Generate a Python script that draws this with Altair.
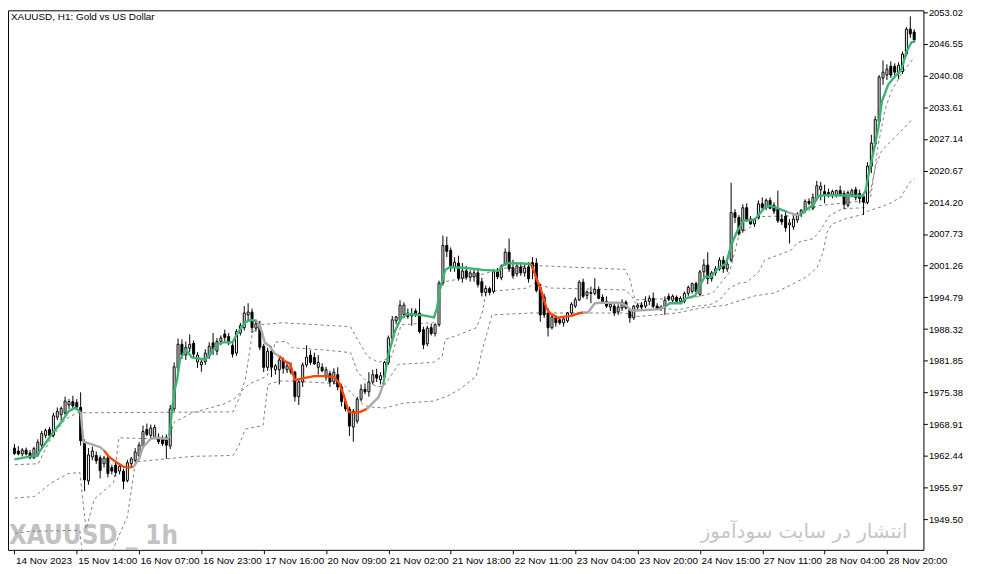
import altair as alt
import pandas as pd

# ---------------- data ----------------
opens = [
 1964.0,1963.4,1962.8,1963.6,1963.0,1962.0,1962.6,1964.6,1966.6,1967.8,
 1966.6,1970.3,1970.8,1971.2,1972.8,1973.5,1973.3,1972.3,1965.0,1957.3,
 1962.2,1962.5,1962.0,1960.8,1962.0,1960.0,1960.5,1959.3,1959.3,1957.4,
 1960.8,1961.5,1962.5,1964.4,1967.8,1966.6,1966.2,1966.2,1965.8,1966.2,
 1964.4,1972.0,1980.4,1985.2,1983.0,1984.4,1985.4,1981.6,1981.0,1981.6,
 1982.8,1985.5,1983.8,1985.8,1987.3,1986.8,1985.0,1983.4,1987.5,1988.6,
 1991.2,1991.8,1988.5,1988.8,1984.8,1980.5,1983.8,1980.0,1980.0,1982.0,
 1980.0,1980.5,1979.5,1974.5,1977.5,1981.0,1983.0,1982.5,1980.5,1980.5,
 1978.5,1979.2,1977.5,1979.0,1976.5,1973.5,1972.0,1968.3,1969.5,1974.0,
 1976.0,1975.5,1977.5,1979.0,1978.0,1978.5,1981.5,1986.5,1990.0,1990.2,
 1991.3,1991.6,1991.0,1992.0,1991.6,1988.2,1985.3,1988.6,1987.4,1989.2,
 1997.7,2005.4,2004.4,2001.0,2001.8,1998.7,2000.2,1998.9,1999.0,1999.8,
 1998.0,1995.8,1996.6,1996.0,2000.0,1998.8,2001.6,2004.0,2000.8,1999.6,
 2001.0,1999.8,2001.0,2001.9,2001.8,1996.8,1994.9,1991.6,1988.6,1990.6,
 1990.2,1989.6,1990.0,1991.6,1993.0,1994.3,1997.9,1995.2,1995.6,1995.6,
 1996.4,1994.8,1994.0,1992.8,1993.0,1991.8,1992.6,1993.8,1992.2,1990.6,
 1992.8,1993.2,1993.0,1994.0,1994.6,1993.0,1992.4,1993.0,1995.0,1994.2,
 1994.8,1994.0,1994.0,1995.6,1996.0,1997.6,1995.4,2000.0,2001.4,1998.6,
 1999.8,2000.6,2002.4,2000.6,2002.4,2012.1,2011.1,2008.5,2013.1,2010.8,
 2009.8,2011.1,2013.9,2013.2,2014.6,2013.6,2012.8,2010.8,2011.4,2009.6,
 2009.2,2010.6,2011.8,2012.6,2014.4,2013.0,2015.0,2016.8,2016.4,2016.2,
 2015.6,2015.8,2016.6,2016.0,2013.6,2015.8,2016.8,2016.0,2015.4,2014.2,
 2021.6,2026.1,2030.7,2039.6,2040.2,2042.0,2042.0,2040.6,2040.9,2044.5,
 2049.6,2049.0]
highs = [
 1964.8,1964.4,1964.0,1964.1,1963.6,1964.3,1965.8,1967.5,1968.0,1968.3,
 1971.2,1972.3,1972.5,1974.5,1974.0,1974.7,1974.0,1975.4,1965.8,1964.0,
 1964.3,1963.3,1962.5,1962.4,1962.4,1960.6,1961.0,1960.8,1959.8,1961.6,
 1962.2,1964.0,1965.2,1968.6,1969.0,1968.8,1968.8,1967.0,1966.6,1966.8,
 1972.8,1981.5,1986.4,1986.2,1985.8,1987.2,1986.0,1983.6,1982.0,1984.2,
 1985.6,1987.5,1986.5,1987.0,1988.2,1987.5,1985.8,1988.3,1989.6,1993.0,
 1993.6,1992.5,1990.3,1990.0,1985.3,1984.5,1984.8,1981.2,1982.6,1982.5,
 1981.5,1981.5,1979.8,1978.0,1981.5,1985.0,1984.0,1983.5,1983.0,1981.3,
 1980.6,1979.8,1980.3,1980.5,1977.0,1974.0,1972.5,1972.0,1974.5,1977.0,
 1977.2,1979.5,1980.0,1980.2,1979.5,1981.8,1987.0,1991.0,1991.0,1994.2,
 1993.8,1992.5,1992.6,1992.5,1994.5,1988.8,1989.0,1989.4,1989.5,1998.2,
 2007.4,2007.2,2005.0,2003.0,2003.3,2001.8,2001.2,2000.3,2000.5,2000.8,
 1998.8,1997.2,1997.0,2000.6,2000.8,2001.5,2004.8,2006.8,2002.5,2001.8,
 2002.0,2001.4,2002.0,2003.0,2002.8,1997.6,1995.5,1992.6,1991.6,1991.2,
 1990.6,1990.8,1991.8,1993.8,1994.8,1998.3,1998.6,1996.2,1997.0,1998.7,
 1997.0,1995.4,1995.0,1993.8,1993.6,1993.4,1994.4,1994.2,1992.6,1993.2,
 1993.6,1993.8,1995.0,1995.2,1995.8,1993.6,1993.2,1995.0,1995.6,1995.4,
 1995.2,1995.0,1996.0,1997.2,1997.8,1998.0,2000.4,2002.6,2004.0,2000.2,
 2001.2,2003.0,2003.2,2002.2,2018.2,2012.8,2011.6,2013.8,2014.0,2011.4,
 2011.0,2014.6,2015.2,2015.0,2015.2,2014.2,2016.6,2011.8,2012.6,2010.8,
 2011.4,2012.2,2012.8,2014.8,2015.0,2016.0,2018.6,2018.4,2017.8,2017.0,
 2016.8,2016.8,2017.6,2016.6,2016.6,2017.0,2017.4,2016.8,2016.0,2022.4,
 2028.0,2031.8,2040.2,2043.2,2042.4,2043.0,2042.6,2042.8,2045.0,2050.0,
 2052.2,2049.6]
lows = [
 1962.6,1962.5,1962.3,1962.5,1961.7,1961.8,1962.2,1964.0,1966.0,1966.2,
 1966.2,1969.7,1969.5,1970.8,1972.0,1972.2,1971.8,1964.5,1955.2,1956.5,
 1961.5,1960.8,1957.8,1960.0,1958.0,1958.6,1958.2,1958.6,1955.6,1957.0,
 1960.3,1961.0,1962.0,1964.0,1966.4,1966.0,1965.8,1964.8,1964.4,1961.8,
 1963.8,1971.5,1979.6,1982.2,1982.0,1983.6,1982.6,1980.4,1979.6,1981.0,
 1982.2,1983.0,1983.0,1985.0,1985.8,1985.0,1982.5,1982.8,1987.0,1988.0,
 1990.0,1987.5,1987.8,1984.0,1979.5,1979.8,1978.5,1979.0,1977.0,1979.2,
 1979.3,1979.0,1973.5,1972.8,1976.5,1980.5,1981.0,1981.0,1979.0,1979.5,
 1977.8,1976.5,1977.0,1975.8,1972.5,1971.5,1966.5,1965.3,1969.0,1973.5,
 1975.0,1974.5,1977.0,1977.5,1977.0,1978.0,1981.0,1986.0,1989.3,1989.8,
 1990.5,1990.4,1989.0,1990.8,1987.4,1984.2,1984.8,1987.0,1986.8,1988.8,
 1997.2,2003.0,2000.0,2000.0,1998.2,1997.8,1998.4,1998.0,1998.0,1996.8,
 1995.0,1995.0,1995.2,1995.6,1998.5,1998.3,2001.2,2000.0,1998.6,1999.0,
 1999.2,1999.0,1997.8,1998.5,1995.8,1989.8,1990.6,1986.8,1988.2,1988.8,
 1989.2,1988.8,1989.6,1991.2,1992.6,1994.0,1994.6,1994.4,1993.6,1995.2,
 1994.4,1993.6,1992.6,1992.0,1991.0,1991.2,1992.0,1992.4,1989.6,1990.2,
 1992.0,1992.2,1992.6,1993.2,1992.6,1992.2,1992.0,1991.2,1994.0,1993.8,
 1993.6,1993.4,1993.6,1995.0,1995.6,1995.8,1995.0,1998.8,1997.5,1998.0,
 1999.2,2000.2,1999.8,2000.0,2002.0,2010.0,2007.4,2008.0,2010.2,2009.6,
 2009.2,2010.8,2012.6,2012.6,2012.8,2011.8,2010.0,2009.6,2008.2,2005.8,
 2008.6,2010.0,2011.2,2012.2,2013.6,2012.6,2014.6,2014.6,2014.0,2015.2,
 2015.0,2015.2,2015.6,2012.8,2013.2,2015.2,2014.6,2014.0,2011.6,2013.8,
 2020.2,2025.4,2030.2,2038.2,2039.2,2039.6,2040.2,2039.4,2040.4,2044.0,
 2047.8,2046.8]
closes = [
 1962.9,1962.8,1963.6,1962.8,1962.0,1963.9,1965.2,1967.0,1967.6,1966.6,
 1970.6,1971.5,1972.1,1973.6,1973.5,1972.6,1972.4,1965.5,1957.5,1962.6,
 1963.4,1961.4,1959.4,1962.0,1958.8,1959.3,1959.0,1960.3,1957.2,1961.0,
 1961.8,1963.2,1964.6,1967.4,1966.8,1968.1,1968.2,1965.3,1964.9,1964.6,
 1972.0,1980.6,1985.2,1983.0,1984.6,1985.2,1983.2,1983.0,1981.6,1983.4,
 1984.8,1984.0,1985.8,1986.5,1986.6,1985.5,1983.2,1987.8,1989.0,1991.6,
 1991.8,1988.6,1989.4,1984.6,1980.5,1983.8,1980.5,1980.8,1982.0,1980.3,
 1980.8,1979.5,1974.5,1977.5,1981.0,1982.6,1981.5,1981.2,1981.5,1979.8,
 1980.0,1977.5,1979.5,1976.5,1973.5,1972.0,1968.5,1971.5,1974.0,1976.0,
 1975.5,1977.5,1979.0,1978.3,1978.8,1981.5,1986.5,1990.2,1990.8,1993.2,
 1993.2,1990.9,1991.4,1991.2,1987.8,1985.1,1988.5,1987.4,1989.2,1997.7,
 2005.4,2004.2,2001.0,2002.0,1998.7,2000.2,1998.9,1999.8,1999.8,1997.4,
 1995.8,1996.6,1995.8,2000.0,1999.0,2001.2,2004.0,2000.6,1999.2,2001.2,
 1999.8,2000.8,1998.6,2000.8,1996.2,1991.2,1991.2,1988.6,1990.8,1989.6,
 1989.6,1990.4,1991.6,1993.4,1994.3,1997.9,1995.0,1995.9,1995.8,1996.4,
 1994.6,1993.8,1993.0,1993.4,1991.6,1992.8,1993.8,1992.6,1990.6,1993.0,
 1993.2,1992.8,1994.0,1994.6,1993.0,1992.4,1992.8,1994.2,1994.4,1995.0,
 1994.0,1994.6,1995.6,1996.8,1997.6,1996.0,2000.0,2001.4,1998.6,1999.8,
 2000.6,2002.4,2000.6,2001.6,2012.1,2011.1,2007.8,2013.1,2010.5,2009.8,
 2010.6,2013.9,2013.1,2014.6,2013.0,2012.4,2010.4,2010.2,2009.0,2010.0,
 2010.8,2011.8,2012.6,2014.4,2014.0,2015.2,2017.6,2017.5,2015.6,2015.8,
 2016.4,2016.6,2015.8,2013.8,2016.2,2016.6,2015.2,2015.0,2014.2,2021.6,
 2026.3,2031.1,2039.8,2040.8,2041.4,2040.2,2040.8,2042.2,2044.5,2049.6,
 2048.6,2047.4]

# trend line (vertices: bar position, value, colour segment)
ind_seg = ([0]*10 + [1]*5 + [2]*6 + [3]*7 + [4]*16 + [5]*6 + [6]*15 + [7]*4 +
           [8]*18 + [9]*10 + [10]*10 + [11]*19 + [12]*3 + [13]*17)
ind_pos = [0,3.5,5.6,7,8.5,10,12,14,15.6,17,
           17,17.7,19.3,22,23,
           23,24.3,26,28,29.3,30.6,
           30.6,32,33,35,36,39.3,39.8,
           39.8,40.5,41,41.8,42.5,44,45.6,49,50.2,52,53.5,56,57.3,59.3,60.6,62.3,
           62.3,63.5,64.3,65.6,66.8,68,
           68,69.3,70.6,71.4,72,74.3,77,79.7,82,83.3,84.6,85.8,87,88.8,90.5,
           90.5,92.2,93.5,94.7,
           94.7,96,97.7,99.3,101,104.3,107.7,108.5,109.3,110.6,111.8,116,120.2,124.3,125.5,126.8,130.2,132.7,
           132.7,134,135.3,136.6,137.4,139.5,140.6,143,144.75,146,
           146,147.25,149,150.6,155.6,156.9,158.25,160,165.75,167,
           167,168.25,171.2,172.4,174.75,176,177.25,178.9,180.6,182.7,184,185.6,187.25,189,190.2,192.7,194,196,198.5,
           198.5,201,201.7,
           201.7,203.5,205.2,206.4,208.5,217.7,218.5,219.3,220.6,221.8,222.7,224.3,226,227.7,229,230.3,231.3]
ind_val = [1961.7,1962.2,1962.4,1963.9,1965.6,1967.3,1969.3,1971.6,1972.2,1971.4,
           1971.4,1965.3,1964.9,1964.2,1963.5,
           1963.5,1962.2,1961.2,1960.2,1960.0,1960.2,
           1960.2,1961.8,1964.2,1965.9,1966.1,1965.9,1966.5,
           1966.5,1972.0,1975.4,1978.1,1982.1,1984.1,1982.5,1982.1,1983.1,1985.2,1985.6,1985.6,1987.5,1989.7,1990.2,1989.9,
           1989.9,1987.8,1985.5,1984.8,1983.3,1982.8,
           1982.8,1981.8,1981.3,1979.5,1977.9,1978.3,1978.7,1978.7,1978.5,1977.4,1974.7,1971.4,1971.2,1971.4,1972.0,
           1972.0,1973.4,1974.4,1977.0,
           1977.0,1983.1,1987.9,1990.6,1991.4,1991.2,1990.7,1992.6,1996.7,2000.4,2001.0,2000.8,2000.4,2000.2,2001.4,2001.8,2001.7,2001.6,
           2001.6,1998.7,1996.0,1992.6,1991.6,1990.6,1990.8,1991.0,1991.5,1991.7,
           1991.7,1991.7,1993.6,1993.7,1993.7,1993.2,1992.1,1992.1,1992.4,1992.9,
           1992.9,1993.6,1993.6,1994.6,1995.1,1997.3,1999.0,1999.0,2000.7,2001.7,2005.4,2008.4,2010.5,2010.5,2010.8,2013.2,2013.5,2013.0,2012.2,
           2012.2,2011.6,2011.8,
           2011.8,2012.8,2013.8,2015.5,2015.7,2015.5,2016.5,2019.9,2024.7,2029.4,2034.8,2038.2,2039.9,2041.2,2044.9,2046.9,2047.1]
seg_colors = ["#3cb371","#a9a9a9","#ff4500","#a9a9a9","#3cb371","#a9a9a9","#ff4500",
              "#a9a9a9","#3cb371","#ff4500","#a9a9a9","#3cb371","#a9a9a9","#3cb371"]

# dotted channel lines (vertices)
bandA_pos = [0.1,6.1,9.3,13.1,16.1,56.1,57.6,59.3,61.1,63.1,68.8,86.3,88.1,90.6,93.6,96.8,99.3,107.6,109.8,
             119.3,125.1,133.6,156.8,158.1,159.3,174.3,179.3,183.6,186.1,189.1,191.8,201.8,206.1,218.1,
             219.8,221.8,223.6,225.1,227.6,231.1]
bandA_val = [1960.6,1960.8,1965.9,1969.9,1971.2,1971.4,1974.0,1978.1,1987.6,1989.2,1989.6,1988.8,1986.2,1982.7,
             1981.5,1982.7,1989.2,1989.6,1997.9,1999.3,2000.7,2001.3,2000.5,1998.3,1994.3,1994.7,1995.7,
             1999.9,2007.8,2009.2,2011.3,2011.5,2013.5,2014.5,2015.1,2026.1,2033.4,2036.8,2040.3,2043.9]
bandB_pos = [0.1,5.1,9.3,13.8,16.8,17.6,18.4,20.5,25.5,26.8,35.1,39.3,41.1,42.6,45.6,53.8,56.3,58.8,60.1,64.8,66.1,66.8,
             69.8,71.3,78.8,86.3,88.1,90.6,93.1,94.8,98.6,107.6,109.8,110.6,114.3,118.6,120.1,121.1,131.8,
             133.6,137.6,156.8,158.6,159.3,164.3,170.1,174.3,178.6,181.1,183.6,186.1,188.1,191.1,192.6,
             199.3,201.1,205.1,206.8,209.3,212.6,218.1,219.8,221.1,222.6,224.3,227.6,230.6]
bandB_val = [1953.8,1954.1,1956.8,1958.8,1959.0,1953.0,1947.5,1953.6,1957.0,1966.1,1965.9,1965.5,1969.4,1969.9,1971.2,1973.0,
             1974.0,1976.0,1977.0,1978.7,1980.7,1985.6,1985.8,1984.5,1984.1,1983.5,1979.5,1977.5,1976.6,
             1976.6,1981.1,1981.5,1982.7,1986.2,1987.2,1988.6,1991.6,1995.9,1996.7,1997.7,1996.7,1996.3,
             1994.9,1993.7,1992.9,1992.2,1992.9,1993.3,1994.3,1996.7,1997.7,1997.9,2000.0,2002.4,2004.4,
             2006.0,2006.8,2008.4,2011.5,2012.9,2013.1,2016.6,2021.6,2024.7,2026.1,2028.7,2031.3]
bandC_pos = [0.1,4.3,16.8,17.6,24.0,29.0,31.1,45.6,56.1,57.6,59.3,63.8,65.1,68.1,71.3,84.3,86.8,89.3,91.1,95.1,
             100.1,107.6,111.1,114.3,118.6,120.1,121.1,122.6,132.6,156.8,159.3,170.1,176.1,182.6,190.1,
             195.1,199.3,203.6,206.1,207.6,208.6,209.8,213.6,217.6,219.3,222.6,225.1,227.6,229.8,231.1]
bandC_val = [1946.6,1947.0,1947.2,1941.0,1941.0,1950.0,1961.2,1962.3,1962.5,1964.5,1967.9,1968.6,1977.0,1977.7,1977.7,
             1977.1,1975.0,1973.0,1972.4,1972.2,1973.2,1973.6,1974.6,1976.0,1978.7,1984.1,1986.8,1991.2,
             1991.6,1991.6,1990.8,1991.6,1992.6,1993.2,1995.1,1995.7,1997.3,1999.1,2000.9,2004.0,2008.0,
             2009.7,2010.9,2011.7,2012.5,2013.3,2014.1,2015.3,2018.2,2019.0]

y_ticks = [1949.50,1955.97,1962.44,1968.91,1975.38,1981.85,1988.32,1994.79,2001.26,2007.73,
           2014.20,2020.67,2027.14,2033.61,2040.08,2046.55,2053.02]
x_tick_pos = [0,16,32,48,64,80,96,112,128,144,160,176,192,208,224]
x_tick_labels = ["14 Nov 2023","15 Nov 14:00","16 Nov 07:00","16 Nov 23:00","17 Nov 16:00",
                 "20 Nov 09:00","21 Nov 02:00","21 Nov 18:00","22 Nov 11:00","23 Nov 04:00",
                 "23 Nov 20:00","24 Nov 15:00","27 Nov 11:00","28 Nov 04:00","28 Nov 20:00"]

title_text = "XAUUSD, H1:  Gold vs US Dollar"
mark_left = "XAUUSD _ 1h"
mark_right = "انتشار در سایت سودآموز"

# ---------------- frames ----------------
n = len(closes)
candles = pd.DataFrame({
    "i": list(range(n)), "open": opens, "high": highs, "low": lows, "close": closes})
candles["lo"] = candles[["open", "close"]].min(axis=1)
candles["hi"] = candles[["open", "close"]].max(axis=1)
candles["fill"] = ["#ffffff" if c >= o else "#000000" for o, c in zip(opens, closes)]

ind = pd.DataFrame({"i": ind_pos, "v": ind_val, "seg": ind_seg})
ind["col"] = [seg_colors[s] for s in ind_seg]
ind["ord"] = range(len(ind))

bands = pd.concat([
    pd.DataFrame({"i": bandA_pos, "v": bandA_val, "band": "A"}),
    pd.DataFrame({"i": bandB_pos, "v": bandB_val, "band": "B"}),
    pd.DataFrame({"i": bandC_pos, "v": bandC_val, "band": "C"}),
], ignore_index=True)
bands["ord"] = range(len(bands))

FONT = "Liberation Sans"
xscale = alt.Scale(domain=[-0.38, 232.1], nice=False, zero=False)
yscale = alt.Scale(domain=[1943.21, 2053.43], nice=False, zero=False)

label_arr = "[" + ",".join("'%s'" % t for t in x_tick_labels) + "]"
xaxis = alt.Axis(values=x_tick_pos, labelExpr=label_arr + "[round(datum.value/16)]",
                 labelAlign="left", labelPadding=2, labelOffset=1, tickSize=4,
                 grid=False, title=None, domain=False, tickColor="black",
                 labelColor="black", labelFont=FONT, labelFontSize=10,
                 labelOverlap=False, labelFlush=False, labelBound=False)
yaxis = alt.Axis(orient="right", values=y_ticks, format=".2f", tickSize=4, labelPadding=1,
                 grid=False, title=None, domain=False, tickColor="black",
                 labelColor="black", labelFont=FONT, labelFontSize=9.5,
                 labelOverlap=False, labelFlush=False, labelBound=False)

base_x = alt.X("i:Q", scale=xscale, axis=xaxis)

wm_left = alt.Chart(pd.DataFrame({"t": [mark_left]})).mark_text(
    align="left", baseline="alphabetic",
    font="DejaVu Sans Condensed, Liberation Sans Narrow, Liberation Sans, sans-serif",
    fontWeight="bold", fontSize=26, color="#c2c2c2").encode(
    x=alt.value(1), y=alt.value(538), text="t:N")
wm_right = alt.Chart(pd.DataFrame({"t": [mark_right]})).mark_text(
    align="right", baseline="alphabetic", font="DejaVu Sans, sans-serif",
    fontSize=20, color="#c6c6c6").encode(x=alt.value(907), y=alt.value(532), text="t:N")
title = alt.Chart(pd.DataFrame({"t": [title_text]})).mark_text(
    align="left", baseline="top", font=FONT, fontSize=10, color="black").encode(
    x=alt.value(3), y=alt.value(2), text="t:N")

band_layer = alt.Chart(bands).mark_line(
    strokeDash=[3, 3], strokeWidth=1, color="#7f7f7f", clip=True).encode(
    x=base_x, y=alt.Y("v:Q", scale=yscale, axis=yaxis), detail="band:N", order="ord:Q")

wicks = alt.Chart(candles).mark_rule(color="black", strokeWidth=1).encode(
    x=base_x, y=alt.Y("low:Q", scale=yscale, axis=yaxis), y2="high:Q")
bodies = alt.Chart(candles).mark_bar(size=2, stroke="black", strokeWidth=1).encode(
    x=base_x, y=alt.Y("lo:Q", scale=yscale, axis=yaxis), y2="hi:Q",
    fill=alt.Fill("fill:N", scale=None))

ind_layer = alt.Chart(ind).mark_line(strokeWidth=2.4, strokeJoin="round").encode(
    x=base_x, y=alt.Y("v:Q", scale=yscale, axis=yaxis),
    color=alt.Color("col:N", scale=None), detail="seg:N", order="ord:Q")

chart = alt.layer(wm_left, wm_right, band_layer, wicks, bodies, ind_layer, title).properties(
    width=923, height=544,
    autosize=alt.AutoSizeParams(type="none"),
    padding={"left": 0, "top": 0, "right": 52, "bottom": 22},
    background="white",
).configure_view(stroke="black", strokeWidth=1)

chart.save("out.html", embed_options={"renderer": "svg", "actions": False})
